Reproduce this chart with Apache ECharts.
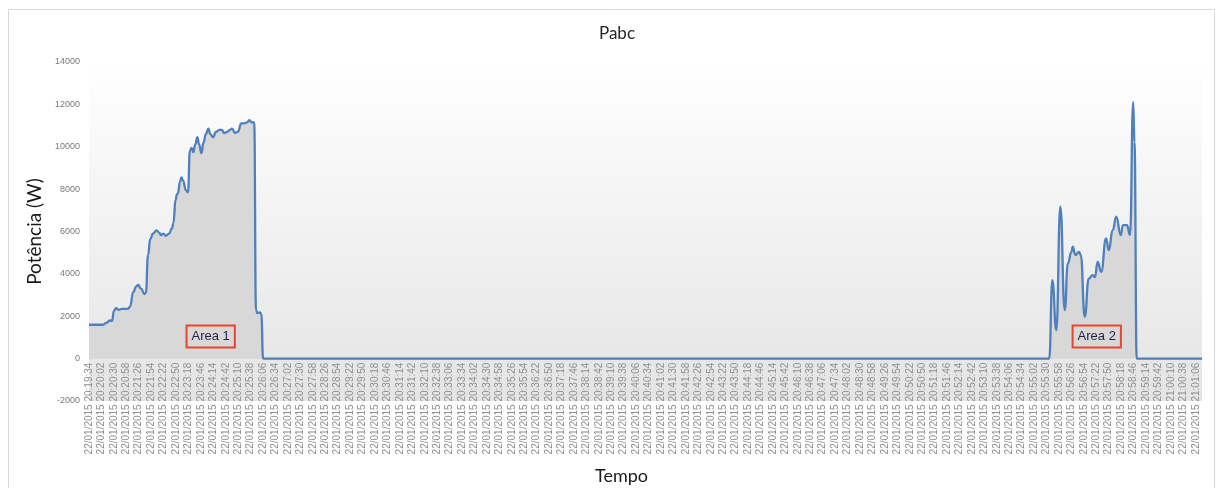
<!DOCTYPE html>
<html>
<head>
<meta charset="utf-8">
<script src="https://cdn.jsdelivr.net/npm/echarts@6/dist/echarts.min.js"></script>
<style>
  html, body { margin: 0; padding: 0; background: #fff; }
  #chart { width: 1216px; height: 488px; }
</style>
</head>
<body>
<div id="chart"></div>
<script>
// Date shown in front of every time label
const dateLabel = '22/01/2015';

// Labelled instants on the time axis, one every 28 s from 20:19:34
const tickTimes = [
  '20:19:34','20:20:02','20:20:30','20:20:58','20:21:26','20:21:54','20:22:22','20:22:50','20:23:18','20:23:46',
  '20:24:14','20:24:42','20:25:10','20:25:38','20:26:06','20:26:34','20:27:02','20:27:30','20:27:58','20:28:26',
  '20:28:54','20:29:22','20:29:50','20:30:18','20:30:46','20:31:14','20:31:42','20:32:10','20:32:38','20:33:06',
  '20:33:34','20:34:02','20:34:30','20:34:58','20:35:26','20:35:54','20:36:22','20:36:50','20:37:18','20:37:46',
  '20:38:14','20:38:42','20:39:10','20:39:38','20:40:06','20:40:34','20:41:02','20:41:30','20:41:58','20:42:26',
  '20:42:54','20:43:22','20:43:50','20:44:18','20:44:46','20:45:14','20:45:42','20:46:10','20:46:38','20:47:06',
  '20:47:34','20:48:02','20:48:30','20:48:58','20:49:26','20:49:54','20:50:22','20:50:50','20:51:18','20:51:46',
  '20:52:14','20:52:42','20:53:10','20:53:38','20:54:06','20:54:34','20:55:02','20:55:30','20:55:58','20:56:26',
  '20:56:54','20:57:22','20:57:50','20:58:18','20:58:46','20:59:14','20:59:42','21:00:10','21:00:38','21:01:06'
];
const tickStep = 28;      // seconds between labelled instants
const lastSecond = 2506;  // end of the record, seconds after 20:19:34

// Power axis range
const powerMin = -2000;
const powerMax = 14000;
const powerStep = 2000;

// Measured power: seconds after 20:19:34 and total power Pabc in watts
const seconds = [
  0, 31, 40, 47, 52, 56, 61, 67, 74, 88, 92, 100, 106, 111, 117, 125, 128, 133, 138, 144,
  152, 158, 162, 167, 173, 180, 187, 190, 195, 198, 200, 205, 208, 212, 218, 223, 227, 231, 235, 239,
  244, 248, 253, 258, 263, 269, 273, 279, 286, 293, 299, 304, 311, 317, 322, 329, 335, 343, 349, 356,
  361, 367, 372, 376, 379, 385, 388, 392,
  2162, 2169, 2178, 2187, 2197, 2204, 2212, 2215, 2221, 2229, 2233, 2242, 2251, 2260, 2265, 2271,
  2279, 2290, 2296, 2305, 2313, 2323, 2328, 2337, 2344, 2351, 2354, 2359, 2506
];
const power = [
  1600, 1600, 1700, 1800, 1780, 2250, 2380, 2300, 2350, 2350, 2450, 3150, 3400, 3480, 3300, 3050, 3100, 4900, 5650, 5900,
  6050, 5950, 5830, 5900, 5800, 5900, 6150, 6400, 7500, 7750, 7800, 8350, 8550, 8400, 7950, 7850, 9800, 9950, 9750, 10100,
  10450, 10100, 9700, 10200, 10600, 10850, 10600, 10450, 10700, 10800, 10800, 10650, 10700, 10800, 10850, 10650, 10700, 11100, 11100, 11150,
  11250, 11150, 11150, 2300, 2150, 2180, 2100, 0,
  0, 3700, 1340, 7170, 2285, 4490, 5040, 5280, 4886, 5040, 4900, 1967, 3780, 3940, 3850, 4570,
  4096, 5676, 5122, 6068, 6697, 5832, 6305, 6305, 5832, 12100, 10200, 0, 0
];

// Highlighted regions
const areaNames = ['Area 1', 'Area 2'];
const areaCentres = [[274, 1050], [2269, 1050]];

const series = seconds.map((s, i) => [s, power[i]]);

// Plot box
const gridTop = 62;
const gridBottom = 87;
const chartHeight = 488;
const plotHeight = chartHeight - gridTop - gridBottom;
// The time axis is drawn at the zero line, not at the bottom of the plot box
const zeroLift = -plotHeight * (0 - powerMin) / (powerMax - powerMin);

const chart = echarts.init(document.getElementById('chart'), null, { renderer: 'canvas' });

chart.setOption({
  backgroundColor: '#ffffff',
  animation: false,
  graphic: [{
    type: 'rect',
    silent: true,
    z: -10,
    shape: { x: 8.5, y: 9.5, width: 1206, height: 500 },
    style: { fill: 'none', stroke: '#d9d9d9', lineWidth: 1 }
  }],
  title: {
    text: 'Pabc',
    left: 612,
    textAlign: 'center',
    top: 20,
    textStyle: { fontFamily: 'Lato', fontSize: 17, fontWeight: 'normal', color: '#262626' }
  },
  grid: {
    left: 89,
    right: 14,
    top: gridTop,
    bottom: gridBottom,
    show: true,
    borderWidth: 0,
    outerBoundsMode: 'none',
    backgroundColor: {
      type: 'linear', x: 0, y: 0, x2: 0, y2: 1,
      colorStops: [
        { offset: 0, color: '#ffffff' },
        { offset: 1, color: '#e4e4e4' }
      ]
    }
  },
  xAxis: {
    type: 'value',
    min: 0,
    max: lastSecond,
    interval: tickStep,
    offset: zeroLift,
    axisLine: { show: false, onZero: false },
    axisTick: { show: false },
    splitLine: { show: false },
    axisLabel: {
      rotate: 90,
      margin: 4,
      fontFamily: 'Liberation Sans',
      fontSize: 10,
      color: '#8f8f8f',
      showMaxLabel: false,
      formatter: v => (v % tickStep === 0 && tickTimes[v / tickStep]) ? dateLabel + ' ' + tickTimes[v / tickStep] : ''
    },
    name: 'Tempo',
    nameLocation: 'middle',
    nameGap: 109,
    nameTextStyle: { fontFamily: 'Lato', fontSize: 18, color: '#1a1a1a', padding: [0, 48, 0, 0] }
  },
  yAxis: {
    type: 'value',
    min: powerMin,
    max: powerMax,
    interval: powerStep,
    axisLine: { show: false },
    axisTick: { show: false },
    splitLine: { show: false },
    axisLabel: { margin: 9, fontFamily: 'Liberation Sans', fontSize: 9, color: '#7a7a7a', formatter: v => String(v) },
    name: 'Potência (W)',
    nameLocation: 'middle',
    nameGap: 35,
    nameTextStyle: { fontFamily: 'Lato', fontSize: 19, color: '#1a1a1a' }
  },
  series: [{
    type: 'line',
    data: series,
    symbol: 'none',
    smooth: 0.5,
    smoothMonotone: 'x',
    lineStyle: { color: '#4f80bd', width: 2.3 },
    areaStyle: { color: '#d8d8d8', opacity: 1 },
    markPoint: {
      symbol: 'rect',
      symbolSize: 1,
      itemStyle: { color: 'rgba(0,0,0,0)' },
      label: {
        show: true,
        position: 'inside',
        formatter: p => p.name,
        fontFamily: 'Liberation Sans',
        fontSize: 13,
        color: '#1f2440',
        borderColor: '#e5462c',
        borderWidth: 2,
        padding: [5, 5, 4, 5]
      },
      data: areaNames.map((n, i) => ({ name: n, coord: areaCentres[i] }))
    }
  }]
});
</script>
</body>
</html>
